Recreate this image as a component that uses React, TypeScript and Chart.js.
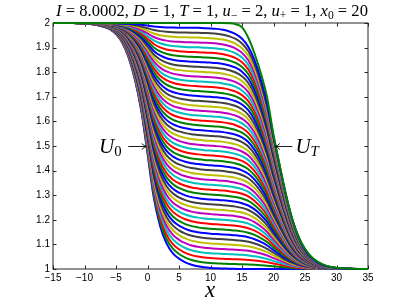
import React, { useEffect, useRef } from 'react';
import { Chart, registerables } from 'chart.js';

Chart.register(...registerables);

const X_GRID = [
  -15, -14, -13, -12, -11, -10, -9, -8, -7, -6, -5, -4, -3, -2, -1, 0, 1, 2, 3, 4, 5,
  6, 7, 8, 9, 10, 11, 12, 13, 14, 15, 16, 17, 18, 19, 20, 21, 22, 23, 24, 25,
  26, 27, 28, 29, 30, 31, 32, 33, 34, 35,
];

// U_0 (initial state, lowest blue curve)
const U0_VALUES = [
  2, 2, 2, 1.9997, 1.9993, 1.998, 1.996, 1.992, 1.985, 1.975, 1.955, 1.92, 1.86, 1.77, 1.645, 1.47, 1.29, 1.175, 1.105, 1.065, 1.042,
  1.027, 1.017, 1.011, 1.007, 1.0045, 1.003, 1.002, 1.001, 1.0005, 1.0002, 1, 1, 1, 1, 1, 1, 1, 1, 1, 1,
  1, 1, 1, 1, 1, 1, 1, 1, 1, 1,
];

// U_T (final state, rightmost green curve)
const UT_VALUES = [
  2, 2, 2, 2, 2, 2, 2, 2, 2, 2, 2, 2, 2, 2, 2, 2, 2, 2, 2, 2, 2,
  2, 2, 2, 2, 2, 2, 2, 1.999, 1.995, 1.982, 1.94, 1.875, 1.795, 1.695, 1.545, 1.42, 1.3, 1.2, 1.13, 1.082,
  1.05, 1.03, 1.017, 1.009, 1.005, 1.003, 1.0015, 1.0007, 1.0003, 1.0001,
];

// right-hand drop of the intermediate states (fraction of the plateau height still left)
const INTERIOR_RIGHT_DROP = [
  1, 1, 1, 1, 1, 1, 1, 1, 1, 1, 1, 1, 1, 1, 1, 1, 1, 1, 1, 1, 1,
  1, 1, 1, 0.999, 0.998, 0.996, 0.992, 0.985, 0.974, 0.955, 0.922, 0.865, 0.785, 0.683, 0.55, 0.425, 0.305, 0.205, 0.13, 0.08,
  0.047, 0.027, 0.015, 0.008, 0.004, 0.002, 0.001, 0, 0, 0,
];

// plateau level of each state, from U_0 (bottom) to U_T (top)
const PLATEAU_LEVELS = [
  1.0, 1.02, 1.04, 1.06, 1.08, 1.1, 1.12, 1.14, 1.16, 1.18,
  1.2, 1.22, 1.24, 1.26, 1.28, 1.3, 1.32, 1.34, 1.36, 1.38,
  1.4, 1.42, 1.44, 1.46, 1.48, 1.5, 1.52, 1.54, 1.56, 1.58,
  1.6, 1.62, 1.64, 1.66, 1.68, 1.7, 1.72, 1.74, 1.76, 1.78,
  1.8, 1.82, 1.84, 1.86, 1.88, 1.9, 1.92, 1.94, 1.96, 1.98, 2.0,
];

const LINE_COLORS = ['#0000ff', '#008000', '#ff0000', '#00bfbf', '#bf00bf', '#bfbf00', '#404040'];

const X_TICKS = [-15, -10, -5, 0, 5, 10, 15, 20, 25, 30, 35];
const Y_TICKS = [1, 1.1, 1.2, 1.3, 1.4, 1.5, 1.6, 1.7, 1.8, 1.9, 2];

type Seg = { t: string; it?: boolean; sub?: boolean };

const TITLE_SEGMENTS: Seg[] = [
  { t: 'I', it: true }, { t: ' = 8.0002, ' },
  { t: 'D', it: true }, { t: ' = 1, ' },
  { t: 'T', it: true }, { t: ' = 1, ' },
  { t: 'u', it: true }, { t: '\u2212', sub: true }, { t: ' = 2, ' },
  { t: 'u', it: true }, { t: '+', sub: true }, { t: ' = 1, ' },
  { t: 'x', it: true }, { t: '0', sub: true }, { t: ' = 20' },
];
const U0_LABEL: Seg[] = [{ t: 'U', it: true }, { t: '0', sub: true }];
const UT_LABEL: Seg[] = [{ t: 'U', it: true }, { t: 'T', it: true, sub: true }];
const X_LABEL = 'x';

const SERIF = '"Liberation Serif", "Times New Roman", serif';

function segFont(s: Seg, size: number) {
  const sz = s.sub ? size * 0.7 : size;
  return `${s.it ? 'italic ' : ''}${sz}px ${SERIF}`;
}

function richWidth(ctx: CanvasRenderingContext2D, segs: Seg[], size: number) {
  let w = 0;
  for (const s of segs) {
    ctx.font = segFont(s, size);
    w += ctx.measureText(s.t).width;
  }
  return w;
}

function drawRich(ctx: CanvasRenderingContext2D, segs: Seg[], x: number, y: number, size: number, subDrop: number) {
  let cx = x;
  ctx.textAlign = 'left';
  ctx.textBaseline = 'alphabetic';
  for (const s of segs) {
    ctx.font = segFont(s, size);
    ctx.fillText(s.t, cx, s.sub ? y + subDrop : y);
    cx += ctx.measureText(s.t).width;
  }
}

const framePlugin = {
  id: 'matlabFrame',
  beforeDatasetsDraw(chart: any) {
    const { ctx, chartArea } = chart;
    const { left, right, top, bottom } = chartArea;
    const xs = chart.scales.x;
    const ys = chart.scales.y;
    ctx.save();
    ctx.strokeStyle = '#262626';
    ctx.lineWidth = 1;
    ctx.strokeRect(left, top, right - left, bottom - top);
    const tl = 3.5;
    ctx.beginPath();
    for (const v of X_TICKS) {
      const px = Math.round(xs.getPixelForValue(v)) + 0.5;
      ctx.moveTo(px, bottom);
      ctx.lineTo(px, bottom - tl);
      ctx.moveTo(px, top);
      ctx.lineTo(px, top + tl);
    }
    for (const v of Y_TICKS) {
      const py = Math.round(ys.getPixelForValue(v)) + 0.5;
      ctx.moveTo(left, py);
      ctx.lineTo(left + tl, py);
      ctx.moveTo(right, py);
      ctx.lineTo(right - tl, py);
    }
    ctx.stroke();
    ctx.restore();
  },
  afterDraw(chart: any) {
    const { ctx } = chart;
    const xs = chart.scales.x;
    const ys = chart.scales.y;
    ctx.save();
    ctx.fillStyle = '#000';
    ctx.strokeStyle = '#000';

    // title, fitted to the reference width
    const w15 = richWidth(ctx, TITLE_SEGMENTS, 15);
    const size = (15 * 312) / w15;
    const tw = richWidth(ctx, TITLE_SEGMENTS, size);
    drawRich(ctx, TITLE_SEGMENTS, 212 - tw / 2, 16, size, 3);

    // x axis label
    ctx.font = `italic 23px ${SERIF}`;
    ctx.textAlign = 'center';
    ctx.textBaseline = 'alphabetic';
    ctx.fillText(X_LABEL, xs.getPixelForValue(10) - 0.5, 297);

    // U_0 label and arrow
    const yArrow = ys.getPixelForValue(1.5) + 0.5;
    drawRich(ctx, U0_LABEL, 99, 152.5, 21, 3);
    const a0 = xs.getPixelForValue(-0.2);
    ctx.lineWidth = 0.9;
    ctx.beginPath();
    ctx.moveTo(a0 - 18, yArrow);
    ctx.lineTo(a0, yArrow);
    ctx.moveTo(a0 - 4.5, yArrow - 3);
    ctx.quadraticCurveTo(a0 - 2, yArrow - 0.5, a0, yArrow);
    ctx.quadraticCurveTo(a0 - 2, yArrow + 0.5, a0 - 4.5, yArrow + 3);
    ctx.stroke();

    // U_T label and arrow
    const aT = xs.getPixelForValue(20.3);
    ctx.beginPath();
    ctx.moveTo(aT + 17, yArrow);
    ctx.lineTo(aT, yArrow);
    ctx.moveTo(aT + 4.5, yArrow - 3);
    ctx.quadraticCurveTo(aT + 2, yArrow - 0.5, aT, yArrow);
    ctx.quadraticCurveTo(aT + 2, yArrow + 0.5, aT + 4.5, yArrow + 3);
    ctx.stroke();
    drawRich(ctx, UT_LABEL, aT + 20, 152.5, 21, 3);

    ctx.restore();
  },
};

export default function App() {
  const canvasRef = useRef<HTMLCanvasElement | null>(null);

  useEffect(() => {
    document.body.style.margin = '0';
    const canvas = canvasRef.current;
    if (!canvas) return;

    const last = PLATEAU_LEVELS.length - 1;
    const datasets = PLATEAU_LEVELS.map((level, k) => {
      const theta = level - 1;
      const data = X_GRID.map((x, i) => {
        const right = k === last ? UT_VALUES[i] - 1 : INTERIOR_RIGHT_DROP[i];
        return { x, y: 1 + (1 - theta) * (U0_VALUES[i] - 1) + theta * right };
      });
      return {
        label: `t${k}`,
        data,
        borderColor: LINE_COLORS[k % LINE_COLORS.length],
        backgroundColor: LINE_COLORS[k % LINE_COLORS.length],
        borderWidth: 2,
        pointRadius: 0,
        fill: false,
        cubicInterpolationMode: 'monotone' as const,
        clip: false as any,
        order: PLATEAU_LEVELS.length - k,
      };
    });

    const chart = new Chart(canvas, {
      type: 'line',
      data: { datasets },
      options: {
        animation: false,
        responsive: false,
        devicePixelRatio: 1,
        parsing: false,
        normalized: true,
        events: [],
        layout: { padding: { top: 23, right: 39, left: 0, bottom: 0 } },
        plugins: {
          legend: { display: false },
          title: { display: false },
          tooltip: { enabled: false },
        },
        scales: {
          x: {
            type: 'linear',
            min: -15,
            max: 35,
            grid: { display: false, drawTicks: false },
            border: { display: false },
            afterBuildTicks: (s: any) => {
              s.ticks = X_TICKS.map((v) => ({ value: v }));
            },
            afterFit: (s: any) => {
              s.height = 34;
            },
            ticks: {
              padding: 3,
              color: '#000',
              font: { family: '"Liberation Sans", Arial, sans-serif', size: 10 },
              maxRotation: 0,
              autoSkip: false,
              callback: (v: any) => String(v).replace('-', '\u2212'),
            },
          },
          y: {
            type: 'linear',
            min: 1,
            max: 2,
            grid: { display: false, drawTicks: false },
            border: { display: false },
            afterBuildTicks: (s: any) => {
              s.ticks = Y_TICKS.map((v) => ({ value: v }));
            },
            afterFit: (s: any) => {
              s.width = 53;
            },
            ticks: {
              padding: 3,
              color: '#000',
              font: { family: '"Liberation Sans", Arial, sans-serif', size: 10 },
              autoSkip: false,
              callback: (v: any) => String(Number(Number(v).toFixed(1))),
            },
          },
        },
      },
      plugins: [framePlugin],
    });

    return () => chart.destroy();
  }, []);

  return (
    <div style={{ position: 'relative', width: 407, height: 303, background: '#fff' }}>
      <canvas ref={canvasRef} width={407} height={303} style={{ display: 'block', width: 407, height: 303 }} />
    </div>
  );
}
